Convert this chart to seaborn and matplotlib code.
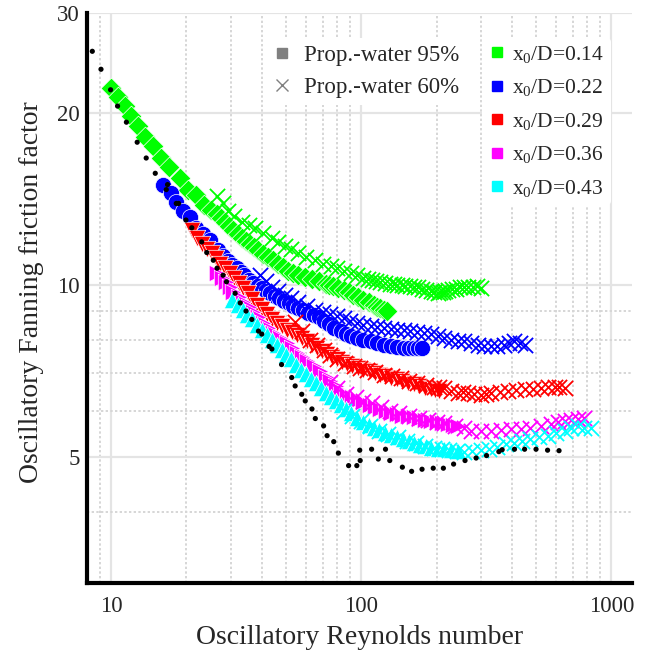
import matplotlib
matplotlib.use("Agg")
import matplotlib.pyplot as plt
from matplotlib.lines import Line2D
from matplotlib.ticker import FixedLocator, NullFormatter, FixedFormatter
import seaborn as sns
import pandas as pd

# ---------------- data ----------------
ratio_labels = ["x$_0$/D=0.14", "x$_0$/D=0.22", "x$_0$/D=0.29", "x$_0$/D=0.36", "x$_0$/D=0.43"]
conc_labels = ["Prop.-water 95%", "Prop.-water 60%"]

# x0/D = 0.14
g95_re = [10.0, 10.6, 11.3, 12.0, 12.8, 13.6, 14.7, 15.8, 17.1, 18.8, 20.3, 21.9, 23.5, 25, 26.4, 27.5,
          28.5, 29.7, 30.8, 32, 33.3, 34.6, 35.9, 37.3, 38.7, 40.5, 42.5, 44.5, 46.5, 48.7, 51, 53.5, 56,
          59.5, 63.5, 67.5, 72, 74.5, 77.4, 81, 85, 89, 93, 97, 102, 107, 112, 116, 119, 123, 127]
g95_f = [22.2, 21.4, 20.6, 19.8, 19.0, 18.2, 17.5, 16.7, 16.1, 15.4, 14.7, 14.4, 13.8, 13.55, 13.3, 13.1,
         12.9, 12.7, 12.5, 12.3, 12.1, 11.95, 11.8, 11.65, 11.5, 11.35, 11.2, 11.05, 10.9, 10.75, 10.6,
         10.5, 10.4, 10.32, 10.25, 10.15, 10.05, 10.0, 9.95, 9.88, 9.8, 9.71, 9.62, 9.52, 9.42, 9.32,
         9.23, 9.16, 9.1, 9.05, 9.0]
g60_re = [26.4, 28, 29.3, 31, 33.3, 35.5, 37.6, 40.5, 43.9, 46.5, 49.6, 52.5, 56, 60, 65.5, 70, 76, 80,
          85, 90.6, 96, 102, 106, 110, 115, 119, 125, 130, 135, 139, 145, 150, 156, 162, 168, 175, 182,
          190, 196, 202, 207, 212, 217, 222, 231, 240, 249, 258, 268, 280, 290, 300]
g60_f = [14.3, 13.9, 13.5, 13.2, 12.9, 12.75, 12.6, 12.35, 12.1, 11.9, 11.7, 11.55, 11.4, 11.2, 11.05,
         10.9, 10.8, 10.7, 10.6, 10.5, 10.4, 10.3, 10.25, 10.2, 10.15, 10.1, 10.07, 10.05, 10.02, 10.0,
         9.98, 9.97, 9.95, 9.93, 9.9, 9.85, 9.8, 9.75, 9.7, 9.67, 9.7, 9.72, 9.76, 9.8, 9.82, 9.85, 9.9,
         9.93, 9.92, 9.9, 9.95, 9.88]

# x0/D = 0.22
b95_re = [16.1, 17.3, 18.2, 19.4, 20.6, 21.9, 23.3, 24.8, 26.8, 28, 29.4, 30.5, 31.8, 33, 34.1, 35.5, 37,
          38.5, 40, 41.5, 43.2, 45, 46.7, 49, 51.2, 53.5, 56.1, 58.7, 61.5, 64.5, 67.5, 71, 74, 78, 82.7,
          86.5, 90.6, 96, 102, 109, 116, 123, 131, 139, 148, 155, 162, 168, 175]
b95_f = [15.0, 14.5, 14.0, 13.5, 13.16, 12.6, 12.3, 11.98, 11.5, 11.25, 11.0, 10.85, 10.7, 10.55, 10.4,
         10.22, 10.07, 9.97, 9.87, 9.77, 9.67, 9.57, 9.48, 9.38, 9.29, 9.2, 9.11, 9.02, 8.93, 8.86, 8.78,
         8.66, 8.55, 8.42, 8.3, 8.21, 8.13, 8.07, 8.02, 7.96, 7.91, 7.86, 7.81, 7.78, 7.75, 7.74, 7.74,
         7.75, 7.75]
b60_re = [39.4, 41.5, 43.9, 46.5, 49.6, 52.5, 56, 60.5, 65.5, 70, 75, 80, 85, 90.5, 96.4, 102, 109, 116,
          123, 131, 139, 148, 157, 167, 178, 190, 202, 215, 229, 243, 258, 275, 292, 310, 330, 350, 372,
          390, 410, 430, 450]
b60_f = [10.4, 10.15, 9.93, 9.75, 9.6, 9.47, 9.35, 9.2, 9.05, 8.97, 8.9, 8.82, 8.75, 8.66, 8.57, 8.5,
         8.46, 8.43, 8.4, 8.37, 8.35, 8.32, 8.29, 8.26, 8.24, 8.19, 8.13, 8.07, 8.02, 7.99, 7.97, 7.91,
         7.86, 7.83, 7.81, 7.83, 7.86, 7.92, 7.97, 7.9, 7.86]

# x0/D = 0.29
r95_re = [21.0, 22, 23.0, 24.1, 25.2, 26.2, 27.2, 28.5, 29.9, 31, 32.3, 33.8, 35.3, 36.7, 38.2, 40, 41.8,
          43.9, 46, 48.2, 50.5, 53, 55.4, 58, 60.7, 63.5, 66.6, 69.7, 73, 76.5, 80, 83.5, 87.5, 92, 97,
          102, 108, 113, 119, 125, 132, 139, 146, 154, 162, 170, 180, 190, 197, 205]
r95_f = [12.47, 12.1, 11.8, 11.58, 11.36, 11.13, 10.9, 10.7, 10.5, 10.28, 10.07, 9.87, 9.67, 9.44, 9.22,
         9.06, 8.9, 8.73, 8.57, 8.46, 8.35, 8.26, 8.18, 8.07, 7.97, 7.86, 7.75, 7.66, 7.58, 7.49, 7.4,
         7.33, 7.27, 7.2, 7.15, 7.1, 7.05, 7.0, 6.96, 6.91, 6.87, 6.83, 6.79, 6.74, 6.69, 6.65, 6.6, 6.56,
         6.53, 6.51]
r60_re = [54.5, 58, 62.5, 66.5, 70.7, 75, 80, 86, 93.3, 99, 105.6, 114, 123, 133, 144, 155, 167, 181, 196,
          205, 215, 229, 243, 255, 267, 283, 300, 315, 330, 358, 386, 417, 450, 487, 525, 558, 593, 620,
          650]
r60_f = [8.6, 8.3, 8.02, 7.85, 7.7, 7.55, 7.4, 7.3, 7.2, 7.15, 7.1, 7.03, 6.96, 6.91, 6.86, 6.79, 6.72,
         6.67, 6.63, 6.61, 6.59, 6.52, 6.46, 6.48, 6.46, 6.43, 6.41, 6.43, 6.46, 6.48, 6.51, 6.53, 6.56,
         6.58, 6.59, 6.61, 6.63, 6.61, 6.59]

# x0/D = 0.36
m95_re = [26.5, 27.7, 28.9, 29.8, 30.8, 32.3, 33.8, 35.4, 37, 38.8, 40.6, 42.5, 44.5, 47.5, 50.5, 53,
          55.4, 58, 60.7, 64.5, 68.5, 72, 75.3, 79, 83, 87.5, 92, 97, 102, 108, 113, 119, 126, 132, 139,
          146, 154, 162, 170, 180, 190, 200, 211, 222, 232, 243]
m95_f = [10.5, 10.3, 10.13, 9.93, 9.73, 9.54, 9.35, 9.16, 8.98, 8.77, 8.57, 8.4, 8.24, 8.07, 7.91, 7.75,
         7.6, 7.47, 7.35, 7.2, 7.05, 6.9, 6.78, 6.64, 6.52, 6.42, 6.35, 6.28, 6.22, 6.16, 6.11, 6.06, 6.0,
         5.97, 5.94, 5.9, 5.88, 5.86, 5.83, 5.8, 5.78, 5.75, 5.72, 5.7, 5.68, 5.66]
m60_re = [75, 80, 87, 95, 102, 110, 120, 130, 142, 155, 170, 185, 200, 215, 236, 258, 275, 300, 330, 362,
          397, 435, 475, 522, 575, 610, 650, 690, 735, 780]
m60_f = [6.75, 6.6, 6.45, 6.35, 6.27, 6.2, 6.1, 6.02, 5.96, 5.9, 5.85, 5.8, 5.76, 5.72, 5.65, 5.6, 5.55,
         5.55, 5.55, 5.56, 5.58, 5.59, 5.61, 5.65, 5.70, 5.74, 5.78, 5.8, 5.81, 5.85]

# x0/D = 0.43
c95_re = [30.5, 32, 33.5, 35, 36.5, 38.2, 40, 42, 44, 46, 48, 50.2, 52.5, 55, 57.5, 60.2, 63, 66, 69, 72,
          75.5, 79, 83, 87, 91, 96, 102, 107, 112, 118, 125, 132, 139, 147, 155, 163, 172, 181, 190, 202,
          215, 228, 243]
c95_f = [9.4, 9.22, 9.05, 8.87, 8.7, 8.52, 8.35, 8.17, 8.0, 7.85, 7.7, 7.55, 7.4, 7.25, 7.1, 6.97, 6.85,
         6.72, 6.6, 6.47, 6.35, 6.25, 6.15, 6.05, 5.95, 5.85, 5.75, 5.68, 5.62, 5.56, 5.5, 5.45, 5.4,
         5.36, 5.32, 5.28, 5.24, 5.21, 5.18, 5.16, 5.15, 5.13, 5.12]
c60_re = [85, 92, 100, 108, 118, 128, 140, 152, 165, 180, 195, 210, 225, 241, 258, 278, 300, 325, 350,
          380, 410, 440, 475, 515, 556, 600, 650, 690, 735, 780, 830]
c60_f = [6.0, 5.88, 5.78, 5.66, 5.55, 5.47, 5.4, 5.33, 5.28, 5.22, 5.18, 5.15, 5.13, 5.11, 5.1, 5.11,
         5.13, 5.16, 5.2, 5.25, 5.29, 5.33, 5.37, 5.4, 5.44, 5.5, 5.55, 5.6, 5.66, 5.62, 5.6]

# black reference dots
k_re = [8.4, 9.1, 9.94, 10.6, 11.5, 12.7, 13.8, 15.0, 16.6, 16.8, 18.2, 18.6, 19.9, 21, 23, 24.1, 25.6,
        26.5, 28, 28.9, 31.3, 32.8, 34.6, 36.5, 38.8, 40, 42.8, 43.9, 48, 52.7, 54.4, 57.8, 59.7, 63.5,
        65.5, 70.7, 73, 77.6, 81, 89, 96, 99, 98.6, 110, 117, 125, 130, 146, 159, 175, 194, 213, 234,
        260, 288, 317, 355, 366, 410, 450, 500, 556, 618]
k_f = [25.7, 23.9, 22.0, 20.6, 19.3, 17.8, 16.7, 15.7, 14.7, 15.0, 13.9, 13.9, 13.0, 12.6, 11.9, 11.4,
       11.05, 10.7, 10.4, 10.13, 9.67, 9.3, 9.0, 8.7, 8.3, 8.2, 7.8, 7.72, 7.25, 6.88, 6.65, 6.43, 6.26,
       6.06, 5.83, 5.66, 5.44, 5.31, 5.07, 4.82, 4.82, 4.92, 5.13, 5.15, 4.95, 5.15, 4.92, 4.79, 4.71,
       4.75, 4.77, 4.77, 4.85, 4.92, 4.97, 5.02, 5.10, 5.14, 5.15, 5.15, 5.15, 5.13, 5.12]

x_major = [10, 100, 1000]
x_minor = [9, 20, 30, 40, 50, 60, 70, 80, 90, 200, 300, 400, 500, 600, 700, 800, 900]
y_major = [5, 10, 20, 30]
y_minor = [4, 6, 7, 8, 9]

# ---------------- style ----------------
sns.set_style("white")
plt.rcParams["font.family"] = ["Liberation Serif", "DejaVu Serif"]
plt.rcParams["mathtext.fontset"] = "custom"
plt.rcParams["mathtext.rm"] = "Liberation Serif"
plt.rcParams["mathtext.it"] = "Liberation Serif:italic"
plt.rcParams["mathtext.default"] = "regular"

colors = ["#00ff00", "#0000ff", "#ff0000", "#ff00ff", "#00ffff"]
filled_markers = ["D", "o", "v", ">", "^"]
filled_sizes = [112, 135, 140, 140, 140]

series95 = [(g95_re, g95_f), (b95_re, b95_f), (r95_re, r95_f), (m95_re, m95_f), (c95_re, c95_f)]
series60 = [(g60_re, g60_f), (b60_re, b60_f), (r60_re, r60_f), (m60_re, m60_f), (c60_re, c60_f)]

fig = plt.figure(figsize=(6.49, 6.59), dpi=100)
ax = fig.add_axes([87 / 649, 76 / 659, (632 - 87) / 649, (583 - 13) / 659])

for i in range(5):
    re95, f95 = series95[i]
    df95 = pd.DataFrame({"Re": re95, "f": f95})
    sns.scatterplot(data=df95, x="Re", y="f", marker=filled_markers[i], color=colors[i],
                    s=filled_sizes[i], edgecolor="white", linewidth=0.5, ax=ax, legend=False, zorder=3)
    re60, f60 = series60[i]
    df60 = pd.DataFrame({"Re": re60, "f": f60})
    sns.scatterplot(data=df60, x="Re", y="f", marker="x", color=colors[i], edgecolor=colors[i],
                    s=120, linewidth=1.3, ax=ax, legend=False, zorder=3)

dfk = pd.DataFrame({"Re": k_re, "f": k_f})
sns.scatterplot(data=dfk, x="Re", y="f", marker="o", color="black", s=14, edgecolor="none",
                ax=ax, legend=False, zorder=4)

ax.set_xscale("log")
ax.set_yscale("log")
ax.set_xlim(8, 1210)
ax.set_ylim(3, 30)

ax.xaxis.set_major_locator(FixedLocator(x_major))
ax.xaxis.set_major_formatter(FixedFormatter([str(v) for v in x_major]))
ax.xaxis.set_minor_locator(FixedLocator(x_minor))
ax.xaxis.set_minor_formatter(NullFormatter())
ax.yaxis.set_major_locator(FixedLocator(y_major))
ax.yaxis.set_major_formatter(FixedFormatter([str(v) for v in y_major]))
ax.yaxis.set_minor_locator(FixedLocator(y_minor))
ax.yaxis.set_minor_formatter(NullFormatter())

ax.grid(True, which="major", color="#e4e4e4", linewidth=1.6, linestyle="-", zorder=0)
ax.grid(True, which="minor", color="#d6d6d6", linewidth=1.4, linestyle=(0, (1.2, 1.2)), zorder=0)
ax.set_axisbelow(True)

for side in ["top", "right"]:
    ax.spines[side].set_visible(False)
for side in ["left", "bottom"]:
    ax.spines[side].set_linewidth(3)
    ax.spines[side].set_color("black")

ax.tick_params(which="major", direction="in", length=5, width=2.5, color="black", labelsize=16.5)
ax.tick_params(which="minor", direction="in", length=3, width=2.5, color="black")
ax.tick_params(axis="x", which="major", pad=9)
ax.tick_params(axis="y", which="major", pad=5)

ax.set_xlabel("Oscillatory Reynolds number", fontsize=20, labelpad=6)
ax.set_ylabel("Oscillatory Fanning friction factor", fontsize=20)
ax.yaxis.set_label_coords(-0.078, 0.51)

# legend 1 : fluids
h1 = [Line2D([], [], linestyle="none", marker="s", color="#808080", markersize=7),
      Line2D([], [], linestyle="none", marker="x", color="#808080", markersize=8.5, markeredgewidth=1.0)]
leg1 = ax.legend(h1, conc_labels, loc="upper left", bbox_to_anchor=(0.325, 0.956), frameon=True,
                 facecolor="white", edgecolor="none", framealpha=1, fontsize=16.5, handlelength=1.0,
                 handletextpad=0.45, labelspacing=0.5, borderpad=0.3, borderaxespad=0)
ax.add_artist(leg1)

# legend 2 : x0/D
h2 = [Line2D([], [], linestyle="none", marker="s", color=c, markersize=7.5) for c in colors]
leg2 = ax.legend(h2, ratio_labels, loc="upper left", bbox_to_anchor=(0.725, 0.957), frameon=True,
                 facecolor="white", edgecolor="none", framealpha=1, fontsize=15.5, handlelength=0.8,
                 handletextpad=0.3, labelspacing=0.58, borderpad=0.3, borderaxespad=0)

fig.savefig("out.png", dpi=100)
